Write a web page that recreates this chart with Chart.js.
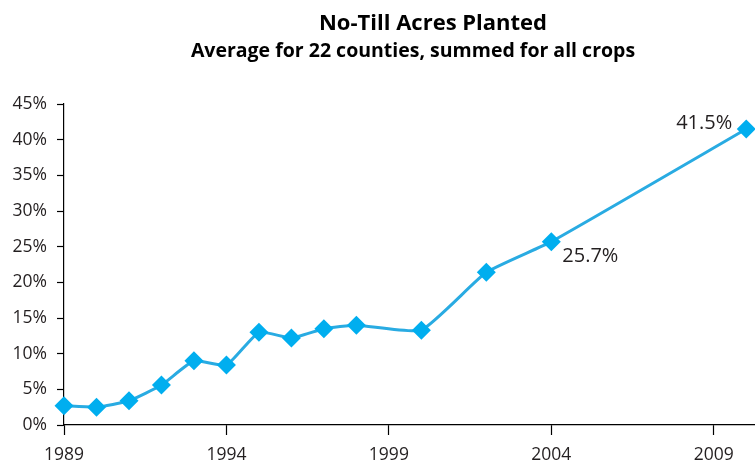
<!DOCTYPE html>
<html>
<head>
<meta charset="utf-8">
<script src="https://cdn.jsdelivr.net/npm/chart.js@4.4.1/dist/chart.umd.min.js"></script>
<style>
    html, body { margin: 0; padding: 0; background: #fff; overflow: hidden; }
    #wrap { width: 755px; height: 461px; }
</style>
</head>
<body>
<div id="wrap"><canvas id="noTillChart" width="755" height="461"></canvas></div>
<script>
// data
const years = [1989, 1990, 1991, 1992, 1993, 1994, 1995, 1996, 1997, 1998, 2000, 2002, 2004, 2010];
const pctPlanted = [2.7, 2.5, 3.4, 5.6, 9.0, 8.4, 13.0, 12.2, 13.5, 14.0, 13.3, 21.4, 25.7, 41.5];
const xTickYears = [1989, 1994, 1999, 2004, 2009];
const labelledYears = [2004, 2010];

const titleText = 'No-Till Acres Planted';
const subtitleText = 'Average for 22 counties, summed for all crops';

const inkColor = '#231F20';
const lineColor = '#29ABE2';
const markerColor = '#00AEEF';
const fontFamily = "'Open Sans', 'Noto Sans', sans-serif";

// titles and the two value labels are drawn by hand
const annotate = {
    id: 'annotate',
    afterDraw(chart) {
        const ctx = chart.ctx;
        ctx.save();
        ctx.fillStyle = '#000';
        ctx.textAlign = 'center';
        ctx.textBaseline = 'alphabetic';
        ctx.font = 'bold 22px ' + fontFamily;
        ctx.fillText(titleText, 433, 30);
        ctx.font = 'bold 19.5px ' + fontFamily;
        ctx.fillText(subtitleText, 413, 57);

        const meta = chart.getDatasetMeta(0);
        ctx.font = '20px ' + fontFamily;
        ctx.fillStyle = inkColor;
        ctx.textBaseline = 'middle';
        labelledYears.forEach(yr => {
            const idx = years.indexOf(yr);
            const pt = meta.data[idx];
            const txt = pctPlanted[idx].toFixed(1) + '%';
            if (yr === 2010) {
                ctx.textAlign = 'right';
                ctx.fillText(txt, pt.x - 14, pt.y - 6);
            } else {
                ctx.textAlign = 'left';
                ctx.fillText(txt, pt.x + 11, pt.y + 15);
            }
        });
        ctx.restore();
    }
};

const ctx = document.getElementById('noTillChart').getContext('2d');

new Chart(ctx, {
    type: 'line',
    data: {
        datasets: [{
            label: 'No-Till Acres Planted',
            data: years.map((y, i) => ({ x: y, y: pctPlanted[i] })),
            borderColor: lineColor,
            borderWidth: 3,
            backgroundColor: markerColor,
            pointStyle: 'rectRot',
            pointRadius: 9.5,
            pointBorderWidth: 0,
            pointBackgroundColor: markerColor,
            tension: 0.15,
            clip: false
        }]
    },
    plugins: [annotate],
    options: {
        responsive: false,
        animation: false,
        devicePixelRatio: 1,
        layout: {
            autoPadding: false,
            padding: { top: 104, left: 0, right: 0, bottom: 0 }
        },
        plugins: {
            legend: { display: false },
            tooltip: { enabled: false },
            title: { display: false }
        },
        scales: {
            x: {
                type: 'linear',
                min: 1989,
                max: 2010.27,
                afterBuildTicks: scale => {
                    scale.ticks = xTickYears.map(v => ({ value: v }));
                },
                afterFit: scale => {
                    scale.height = 36;
                    scale.paddingRight = 0;
                },
                border: { display: true, color: '#000', width: 1.2 },
                grid: {
                    display: true,
                    drawOnChartArea: false,
                    drawTicks: true,
                    tickLength: 10,
                    tickColor: '#000',
                    tickWidth: 1.2
                },
                ticks: {
                    color: inkColor,
                    font: { family: fontFamily, size: 17.5 },
                    padding: 10,
                    maxRotation: 0,
                    autoSkip: false,
                    callback: v => String(v)
                }
            },
            y: {
                min: 0,
                max: 45,
                afterFit: scale => { scale.width = 64; },
                border: { display: true, color: '#000', width: 1.2 },
                grid: {
                    display: true,
                    drawOnChartArea: false,
                    drawTicks: true,
                    tickLength: 7,
                    tickColor: '#000',
                    tickWidth: 1.2
                },
                ticks: {
                    stepSize: 5,
                    color: inkColor,
                    font: { family: fontFamily, size: 17.5 },
                    padding: 10,
                    callback: v => v + '%'
                }
            }
        }
    }
});
</script>
</body>
</html>
